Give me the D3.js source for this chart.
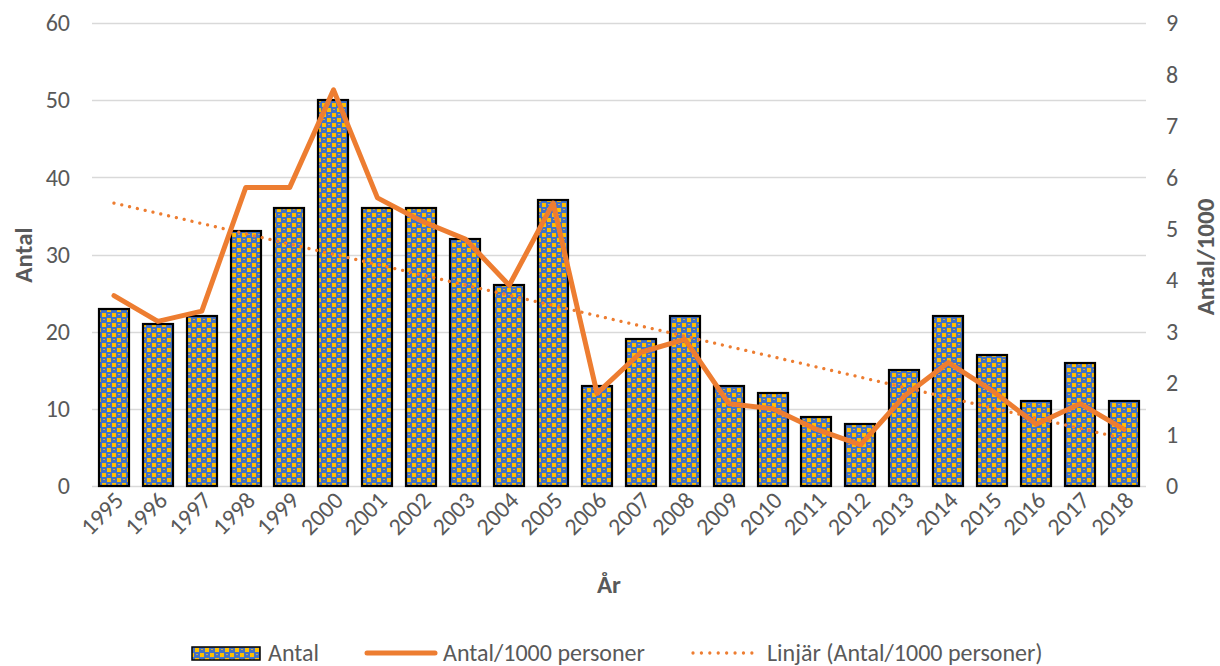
<!DOCTYPE html>
<html>
<head>
<meta charset="utf-8">
<script src="https://cdn.jsdelivr.net/npm/d3@7"></script>
<style>
    body { margin: 0; background: #fff; }
    svg text { font-family: Carlito, "Open Sans", Lato, sans-serif; fill: #595959; }
</style>
</head>
<body>
<div id="chart"></div>
<script>
const years = ["1995","1996","1997","1998","1999","2000","2001","2002","2003","2004","2005","2006",
               "2007","2008","2009","2010","2011","2012","2013","2014","2015","2016","2017","2018"];
const antal = [23, 21, 22, 33, 36, 50, 36, 36, 32, 26, 37, 13, 19, 22, 13, 12, 9, 8, 15, 22, 17, 11, 16, 11];
const perThousand = [3.7, 3.2, 3.4, 5.8, 5.8, 7.7, 5.6, 5.15, 4.8, 3.9, 5.5, 1.8,
                     2.6, 2.85, 1.6, 1.5, 1.1, 0.8, 1.75, 2.4, 1.85, 1.2, 1.6, 1.1];
// trend line at first and last year
const trendEnds = [5.5, 0.92];
const leftTicks = [0, 10, 20, 30, 40, 50, 60];
const rightTicks = [0, 1, 2, 3, 4, 5, 6, 7, 8, 9];

const margin = {top: 23, right: 74, bottom: 180, left: 92};
const fullWidth = 1220, fullHeight = 666;
const width = fullWidth - margin.left - margin.right;
const height = fullHeight - margin.top - margin.bottom;

const orange = "#ED7D31";
const tickFont = 24;
const titleFont = 25;

const svg = d3.select("#chart").append("svg")
    .attr("width", fullWidth)
    .attr("height", fullHeight);

// bar fill pattern (blue with yellow checks)
const defs = svg.append("defs");
const pat = defs.append("pattern")
    .attr("id", "checker")
    .attr("patternUnits", "userSpaceOnUse")
    .attr("width", 10).attr("height", 10);
const cells = [
    [0, 0, 4, 4, "#FFC000"],
    [5, 5, 4, 4, "#FFC000"],
    [6, 1, 2, 1, "#D9A843"],
    [1, 6, 2, 1, "#D9A843"]
];
pat.append("rect").attr("width", 10).attr("height", 10).attr("fill", "#4472C4");
cells.forEach(c => {
    pat.append("rect")
        .attr("x", c[0]).attr("y", c[1])
        .attr("width", c[2]).attr("height", c[3])
        .attr("fill", c[4])
        .attr("shape-rendering", "crispEdges");
});

const plot = svg.append("g")
    .attr("transform", "translate(" + margin.left + "," + margin.top + ")");

const x = d3.scaleBand().domain(years).range([0, width]).paddingInner(0.31).paddingOuter(0.155);
const yLeft = d3.scaleLinear().domain([0, 60]).range([height, 0]);
const yRight = d3.scaleLinear().domain([0, 9]).range([height, 0]);

// gridlines
plot.append("g")
    .selectAll("line")
    .data(leftTicks)
    .enter()
    .append("line")
    .attr("x1", 0).attr("x2", width)
    .attr("y1", d => Math.round(yLeft(d)) + 0.5)
    .attr("y2", d => Math.round(yLeft(d)) + 0.5)
    .attr("stroke", "#D9D9D9")
    .attr("stroke-width", 1.3);

// left axis
const leftAxis = plot.append("g")
    .call(d3.axisLeft(yLeft).tickValues(leftTicks).tickSize(0).tickPadding(22));
leftAxis.select(".domain").remove();
leftAxis.selectAll("text").attr("font-size", tickFont);

// right axis
const rightAxis = plot.append("g")
    .attr("transform", "translate(" + width + ",0)")
    .call(d3.axisRight(yRight).tickValues(rightTicks).tickSize(0).tickPadding(20));
rightAxis.select(".domain").remove();
rightAxis.selectAll("text").attr("font-size", tickFont);

// bottom axis
const bottomAxis = plot.append("g")
    .attr("transform", "translate(0," + height + ")")
    .call(d3.axisBottom(x).tickSize(0).tickPadding(0));
bottomAxis.select(".domain").remove();
bottomAxis.selectAll("text")
    .attr("font-size", tickFont)
    .attr("text-anchor", "end")
    .attr("dy", 0)
    .attr("transform", "translate(11,16) rotate(-45)");

// bars
plot.append("g")
    .selectAll("rect")
    .data(antal)
    .enter()
    .append("rect")
    .attr("x", (d, i) => Math.round(x(years[i])))
    .attr("y", d => Math.round(yLeft(d)))
    .attr("width", Math.round(x.bandwidth()))
    .attr("height", d => Math.round(height) - Math.round(yLeft(d)))
    .attr("fill", "url(#checker)")
    .attr("stroke", "#000")
    .attr("stroke-width", 2.2);

// trend line
const trendLine = d3.line()
    .x((d, i) => x(years[i === 0 ? 0 : years.length - 1]) + x.bandwidth() / 2)
    .y(d => yRight(d));
plot.append("path")
    .attr("d", trendLine(trendEnds))
    .attr("fill", "none")
    .attr("stroke", orange)
    .attr("stroke-width", 3.3)
    .attr("stroke-linecap", "round")
    .attr("stroke-dasharray", "0.01,8");

// per thousand line
const line = d3.line()
    .x((d, i) => x(years[i]) + x.bandwidth() / 2)
    .y(d => yRight(d));
plot.append("path")
    .attr("d", line(perThousand))
    .attr("fill", "none")
    .attr("stroke", orange)
    .attr("stroke-width", 5)
    .attr("stroke-linejoin", "round")
    .attr("stroke-linecap", "round");

// axis titles
svg.append("text")
    .attr("transform", "translate(32,255) rotate(-90)")
    .attr("text-anchor", "middle")
    .attr("font-size", titleFont)
    .attr("font-weight", "bold")
    .text("Antal");

svg.append("text")
    .attr("transform", "translate(1214,257) rotate(-90)")
    .attr("text-anchor", "middle")
    .attr("font-size", titleFont)
    .attr("font-weight", "bold")
    .text("Antal/1000");

svg.append("text")
    .attr("x", 609).attr("y", 593)
    .attr("text-anchor", "middle")
    .attr("font-size", titleFont)
    .attr("font-weight", "bold")
    .text("År");

// legend
const legend = svg.append("g").attr("transform", "translate(0,653)");
legend.append("rect")
    .attr("x", 192).attr("y", -6).attr("width", 68).attr("height", 13)
    .attr("fill", "url(#checker)")
    .attr("stroke", "#000").attr("stroke-width", 1.5);
legend.append("text").attr("x", 268).attr("y", 8).attr("font-size", tickFont).text("Antal");

legend.append("line")
    .attr("x1", 367).attr("x2", 435).attr("y1", 0).attr("y2", 0)
    .attr("stroke", orange).attr("stroke-width", 5).attr("stroke-linecap", "round");
legend.append("text").attr("x", 443).attr("y", 8).attr("font-size", tickFont).text("Antal/1000 personer");

legend.append("line")
    .attr("x1", 693).attr("x2", 760).attr("y1", 0).attr("y2", 0)
    .attr("stroke", orange).attr("stroke-width", 3.3)
    .attr("stroke-linecap", "round").attr("stroke-dasharray", "0.01,8.4");
legend.append("text").attr("x", 767).attr("y", 8).attr("font-size", tickFont).text("Linjär (Antal/1000 personer)");
</script>
</body>
</html>
